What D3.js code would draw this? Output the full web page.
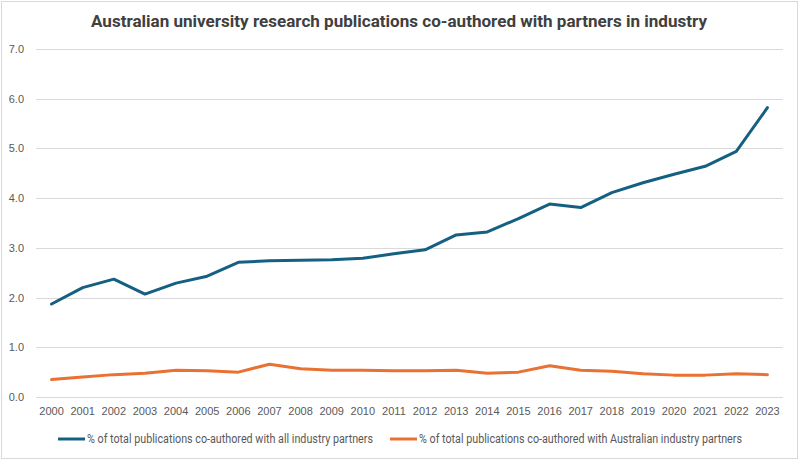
<!DOCTYPE html>
<html>
<head>
<meta charset="utf-8">
<script src="https://cdn.jsdelivr.net/npm/d3@7"></script>
<style>
  html, body { margin: 0; padding: 0; background: #fff; }
  svg { display: block; }
</style>
</head>
<body>
<svg id="chart" width="800" height="461"></svg>
<script>
const TITLE = 'Australian university research publications co-authored with partners in industry'

const YEARS = ['2000', '2001', '2002', '2003', '2004', '2005', '2006', '2007', '2008', '2009', '2010', '2011',
  '2012', '2013', '2014', '2015', '2016', '2017', '2018', '2019', '2020', '2021', '2022', '2023']

const ALL_INDUSTRY = [1.87, 2.20, 2.37, 2.07, 2.29, 2.43, 2.71, 2.74, 2.75, 2.76, 2.79, 2.88,
  2.96, 3.26, 3.32, 3.59, 3.88, 3.81, 4.11, 4.31, 4.48, 4.64, 4.94, 5.82]

const AUS_INDUSTRY = [0.35, 0.40, 0.45, 0.48, 0.54, 0.53, 0.50, 0.66, 0.57, 0.54, 0.54, 0.53,
  0.53, 0.54, 0.48, 0.50, 0.63, 0.54, 0.52, 0.47, 0.44, 0.44, 0.47, 0.45]

const Y_TICKS = [0, 1, 2, 3, 4, 5, 6, 7]

const SERIES = [
  { name: '% of total publications co-authored with all industry partners', values: ALL_INDUSTRY, color: '#156082' },
  { name: '% of total publications co-authored with Australian industry partners', values: AUS_INDUSTRY, color: '#E97132' },
]

const svg = d3.select('#chart')
const W = 800
const H = 461
const M = { top: 49, right: 17, bottom: 64, left: 36 }

// outer chart frame
svg.append('rect')
  .attr('x', 1.5).attr('y', 1.5)
  .attr('width', W - 4).attr('height', H - 4)
  .attr('fill', '#fff')
  .attr('stroke', '#d9d9d9')
  .attr('stroke-width', 1)

// the reference uses a narrow bold face; squeeze Roboto to the same width
svg.append('text')
  .attr('x', 91)
  .attr('y', 27)
  .attr('font-family', 'Roboto, "Liberation Sans", sans-serif')
  .attr('font-weight', 'bold')
  .attr('font-size', 17)
  .attr('fill', '#404040')
  .attr('textLength', 616)
  .attr('lengthAdjust', 'spacingAndGlyphs')
  .text(TITLE)

const x = d3.scaleBand()
  .domain(YEARS)
  .range([M.left, W - M.right])

const y = d3.scaleLinear()
  .domain([0, 7])
  .range([H - M.bottom, M.top])

// gridlines
svg.append('g')
  .selectAll('line')
  .data(Y_TICKS)
  .join('line')
  .attr('x1', M.left)
  .attr('x2', W - M.right)
  .attr('y1', d => Math.round(y(d)) + 0.5)
  .attr('y2', d => Math.round(y(d)) + 0.5)
  .attr('stroke', '#d9d9d9')
  .attr('stroke-width', 1)

// y axis labels
const yAxis = svg.append('g')
  .attr('transform', `translate(${M.left - 12},0)`)
  .call(d3.axisLeft(y).tickValues(Y_TICKS).tickFormat(d3.format('.1f')).tickSize(0).tickPadding(0))
yAxis.select('.domain').remove()
yAxis.selectAll('text')
  .attr('font-family', '"Liberation Sans", Arial, sans-serif')
  .attr('font-size', 11)
  .attr('fill', '#595959')

// x axis labels
const xAxis = svg.append('g')
  .attr('transform', `translate(0,${H - M.bottom})`)
  .call(d3.axisBottom(x).tickSize(0).tickPadding(10))
xAxis.select('.domain').remove()
xAxis.selectAll('text')
  .attr('font-family', '"Liberation Sans", Arial, sans-serif')
  .attr('font-size', 11)
  .attr('fill', '#595959')

const line = d3.line()
  .x((d, i) => x(YEARS[i]) + x.bandwidth() / 2)
  .y(d => y(d))

svg.append('g')
  .selectAll('path')
  .data(SERIES)
  .join('path')
  .attr('d', d => line(d.values))
  .attr('fill', 'none')
  .attr('stroke', d => d.color)
  .attr('stroke-width', 3)
  .attr('stroke-linejoin', 'round')
  .attr('stroke-linecap', 'round')

// legend
const LEGEND_X = [58, 390]
const LEGEND_W = [286, 323]
const legend = svg.append('g')
  .selectAll('g')
  .data(SERIES)
  .join('g')
  .attr('transform', (d, i) => `translate(${LEGEND_X[i]},439)`)
legend.append('line')
  .attr('x1', 0).attr('x2', 27)
  .attr('stroke', d => d.color)
  .attr('stroke-width', 3)
legend.append('text')
  .attr('x', 29)
  .attr('dy', '0.35em')
  .attr('font-family', 'Roboto, "Liberation Sans", sans-serif')
  .attr('font-size', 12.5)
  .attr('fill', '#595959')
  .attr('textLength', (d, i) => LEGEND_W[i])
  .attr('lengthAdjust', 'spacingAndGlyphs')
  .text(d => d.name)
</script>
</body>
</html>
